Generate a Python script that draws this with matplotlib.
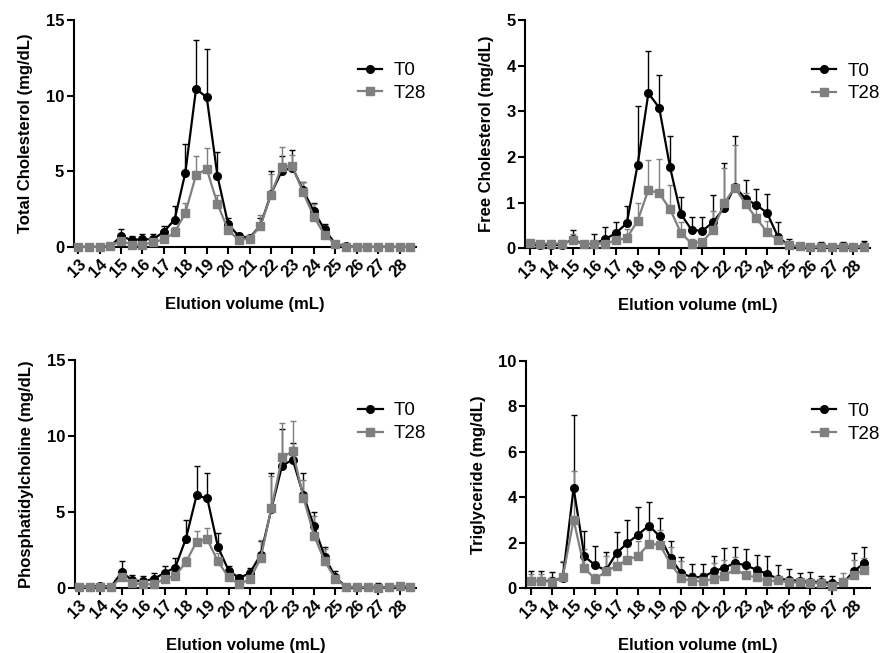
import matplotlib
matplotlib.use("Agg")
import matplotlib.pyplot as plt
import numpy as np

plt.rcParams['font.family'] = ['Liberation Sans', 'DejaVu Sans']

# elution volume (mL), one fraction every 0.5 mL
elution = [13, 13.5, 14, 14.5, 15, 15.5, 16, 16.5, 17, 17.5, 18, 18.5, 19, 19.5, 20, 20.5,
           21, 21.5, 22, 22.5, 23, 23.5, 24, 24.5, 25, 25.5, 26, 26.5, 27, 27.5, 28, 28.5]
tick_labels = [str(v) for v in range(13, 29)]

# Total cholesterol: means and top of the error bar
tc_t0 = [0, 0, 0, 0.05, 0.7, 0.45, 0.5, 0.5, 1.0, 1.8, 4.9, 10.45, 9.9, 4.7, 1.5, 0.7,
         0.6, 1.4, 3.5, 5.0, 5.25, 3.75, 2.35, 1.15, 0.2, 0.05, 0, 0, 0, 0, 0, 0]
tc_t0_top = [0, 0, 0, 0.05, 1.2, 0.75, 0.85, 0.85, 1.4, 2.7, 6.8, 13.7, 13.1, 6.3, 1.9, 0.9,
             0.8, 1.9, 5.0, 6.0, 6.4, 4.3, 2.9, 1.5, 0.3, 0.1, 0, 0, 0, 0, 0, 0]
tc_t28 = [0, 0, 0, 0.05, 0.4, 0.15, 0.15, 0.3, 0.5, 0.95, 2.25, 4.75, 5.15, 2.85, 1.1, 0.45,
          0.55, 1.35, 3.45, 5.3, 5.35, 3.6, 2.0, 0.8, 0.2, 0, 0, 0, 0, 0, 0, 0]
tc_t28_top = [0, 0, 0, 0.05, 0.6, 0.3, 0.3, 0.5, 0.7, 1.3, 2.9, 6.0, 6.55, 3.4, 1.3, 0.6,
              0.7, 2.1, 4.8, 6.6, 6.1, 4.3, 2.85, 1.15, 0.3, 0, 0, 0, 0, 0, 0, 0]

# Free cholesterol
fc_t0 = [0.08, 0.06, 0.07, 0.07, 0.2, 0.08, 0.1, 0.2, 0.33, 0.55, 1.83, 3.4, 3.08, 1.78, 0.75, 0.4,
         0.38, 0.57, 0.88, 1.35, 1.08, 0.95, 0.77, 0.25, 0.06, 0.04, 0.02, 0.04, 0.03, 0.04, 0.03, 0.04]
fc_t0_top = [0.12, 0.1, 0.15, 0.12, 0.39, 0.15, 0.31, 0.46, 0.57, 0.93, 3.12, 4.33, 3.8, 2.45, 1.13, 0.68,
             0.68, 1.17, 1.87, 2.45, 1.5, 1.3, 1.18, 0.57, 0.2, 0.12, 0.05, 0.13, 0.05, 0.13, 0.05, 0.15]
fc_t28 = [0.12, 0.1, 0.1, 0.1, 0.17, 0.08, 0.1, 0.1, 0.17, 0.22, 0.6, 1.28, 1.2, 0.86, 0.34, 0.1,
          0.14, 0.4, 0.98, 1.33, 0.97, 0.66, 0.35, 0.18, 0.06, 0.04, 0.02, 0.03, 0.02, 0.03, 0.03, 0.03]
fc_t28_top = [0.15, 0.13, 0.15, 0.15, 0.3, 0.12, 0.15, 0.15, 0.2, 0.42, 0.98, 1.93, 1.95, 1.38, 0.57, 0.2,
              0.2, 0.82, 1.75, 2.27, 1.22, 0.97, 0.6, 0.3, 0.08, 0.06, 0.04, 0.05, 0.04, 0.05, 0.05, 0.05]

# Phosphatidylcholine
pc_t0 = [0.1, 0.1, 0.15, 0.1, 1.05, 0.5, 0.45, 0.6, 1.0, 1.35, 3.25, 6.1, 5.9, 2.7, 1.15, 0.65,
         1.0, 2.2, 5.2, 8.05, 8.45, 6.1, 4.05, 2.05, 0.7, 0.07, 0.08, 0.05, 0.08, 0.05, 0.15, 0.1]
pc_t0_top = [0.1, 0.1, 0.15, 0.1, 1.75, 0.85, 0.8, 1.0, 1.45, 2.0, 4.5, 8.05, 7.6, 3.65, 1.45, 0.85,
             1.35, 3.1, 7.6, 10.45, 9.55, 7.6, 5.0, 2.7, 1.1, 0.2, 0.2, 0.15, 0.3, 0.15, 0.3, 0.2]
pc_t28 = [0.1, 0.05, 0.1, 0.1, 0.7, 0.3, 0.25, 0.25, 0.6, 0.8, 1.7, 3.05, 3.2, 1.75, 0.7, 0.25,
          0.6, 1.95, 5.25, 8.6, 9.0, 5.95, 3.45, 1.75, 0.6, 0.07, 0.05, 0.05, 0.03, 0.05, 0.15, 0.1]
pc_t28_top = [0.15, 0.1, 0.15, 0.15, 0.9, 0.45, 0.4, 0.4, 0.8, 1.0, 2.05, 3.75, 3.95, 2.3, 0.9, 0.4,
              0.8, 3.15, 7.35, 10.85, 11.0, 7.1, 4.75, 2.6, 0.8, 0.1, 0.1, 0.1, 0.05, 0.1, 0.2, 0.15]

# Triglyceride
tg_t0 = [0.3, 0.33, 0.3, 0.45, 4.4, 1.4, 1.0, 0.78, 1.55, 1.98, 2.35, 2.75, 2.27, 1.32, 0.66, 0.47,
         0.48, 0.73, 0.9, 1.1, 1.0, 0.8, 0.62, 0.4, 0.37, 0.3, 0.27, 0.27, 0.22, 0.2, 0.73, 1.1]
tg_t0_top = [0.76, 0.76, 0.69, 1.15, 7.63, 2.5, 1.85, 1.58, 2.45, 3.0, 3.55, 3.8, 3.1, 2.05, 1.36, 1.07,
             1.07, 1.42, 1.75, 1.82, 1.72, 1.47, 1.4, 1.03, 0.85, 0.66, 0.72, 0.55, 0.55, 0.25, 1.53, 1.8]
tg_t28 = [0.32, 0.3, 0.28, 0.5, 3.0, 0.88, 0.4, 0.73, 0.98, 1.24, 1.42, 1.94, 1.91, 1.07, 0.44, 0.3,
          0.3, 0.4, 0.54, 0.83, 0.56, 0.47, 0.3, 0.34, 0.25, 0.25, 0.22, 0.22, 0.07, 0.25, 0.56, 0.8]
tg_t28_top = [0.6, 0.6, 0.5, 1.17, 5.14, 1.7, 0.6, 1.4, 1.55, 1.83, 2.05, 2.55, 2.55, 1.82, 1.17, 0.66,
              0.66, 1.1, 1.24, 1.36, 1.1, 0.8, 0.66, 0.5, 0.4, 0.4, 0.4, 0.36, 0.3, 0.66, 1.24, 1.31]

T0_COLOR = 'black'
T28_COLOR = '#7f7f7f'


def draw_panel(ax, t0, t0_top, t28, t28_top, ylabel, ymax, ystep):
    x = np.array(elution)
    for mean, top, color, marker, label in [(t0, t0_top, T0_COLOR, 'o', 'T0'),
                                            (t28, t28_top, T28_COLOR, 's', 'T28')]:
        mean = np.array(mean)
        up = np.clip(np.array(top) - mean, 0, None)
        ax.errorbar(x, mean, yerr=[np.zeros_like(up), up], fmt='none', ecolor=color,
                    elinewidth=1.0, capsize=2.5, capthick=1.0, clip_on=False)
        ax.plot(x, mean, color=color, marker=marker, markersize=5.5, linewidth=1.6,
                label=label, clip_on=False, zorder=3)

    ax.set_xlim(12.8, 28.78)
    ax.set_ylim(0, ymax)
    ax.set_xticks(range(13, 29))
    ax.set_xticklabels(tick_labels, rotation=45, ha='right', rotation_mode='anchor',
                       fontweight='bold', fontsize=12)
    yticks = np.arange(0, ymax + ystep / 2, ystep)
    ax.set_yticks(yticks)
    ax.set_yticklabels([str(int(v)) for v in yticks], fontweight='bold', fontsize=12)
    ax.tick_params(axis='both', length=5, width=1.5, pad=2)
    for side in ['top', 'right']:
        ax.spines[side].set_visible(False)
    for side in ['left', 'bottom']:
        ax.spines[side].set_linewidth(1.5)
    ax.set_xlabel('Elution volume (mL)', fontweight='bold', fontsize=12, labelpad=12)
    ax.set_ylabel(ylabel, fontweight='bold', fontsize=12, labelpad=9)
    ax.legend(loc='upper left', bbox_to_anchor=(0.83, 0.815), frameon=False,
              fontsize=13.5, handlelength=1.3, handletextpad=0.6, labelspacing=0.3,
              borderpad=0, borderaxespad=0)


fig = plt.figure(figsize=(8.8, 6.53), dpi=100)
ax1 = fig.add_axes([0.084, 0.622, 0.389, 0.347])
ax2 = fig.add_axes([0.597, 0.620, 0.392, 0.349])
ax3 = fig.add_axes([0.085, 0.0995, 0.388, 0.349])
ax4 = fig.add_axes([0.598, 0.0995, 0.391, 0.348])

draw_panel(ax1, tc_t0, tc_t0_top, tc_t28, tc_t28_top, 'Total Cholesterol (mg/dL)', 15, 5)
draw_panel(ax2, fc_t0, fc_t0_top, fc_t28, fc_t28_top, 'Free Cholesterol (mg/dL)', 5, 1)
draw_panel(ax3, pc_t0, pc_t0_top, pc_t28, pc_t28_top, 'Phosphatidylcholine (mg/dL)', 15, 5)
draw_panel(ax4, tg_t0, tg_t0_top, tg_t28, tg_t28_top, 'Triglyceride (mg/dL)', 10, 2)

fig.savefig('out.png', dpi=100)
